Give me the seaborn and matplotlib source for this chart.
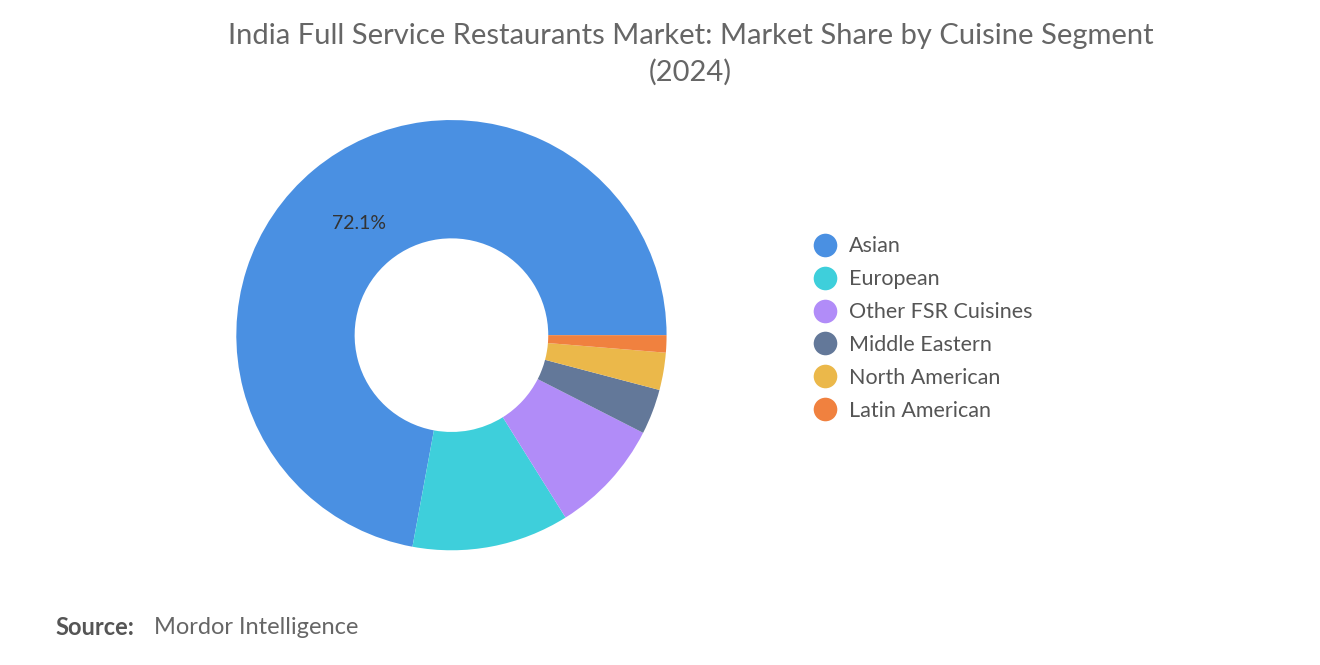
import matplotlib.pyplot as plt
import seaborn as sns
import numpy as np
from matplotlib.lines import Line2D

segments = ["Asian", "European", "Other FSR Cuisines", "Middle Eastern", "North American", "Latin American"]
shares = [72.1, 11.8, 8.6, 3.4, 2.8, 1.3]
colors = ["#4A90E2", "#3ECFDB", "#B18CF8", "#637899", "#EBB84A", "#F0813F"]

sns.set_theme(style="white", font="Lato")
fig = plt.figure(figsize=(13.2, 6.65), dpi=100)
ax = fig.add_axes([0.342 - 0.163, 0.496 - 0.3235, 0.326, 0.647])

wedges, _ = ax.pie(shares, colors=colors, startangle=0, counterclock=True,
                   radius=1.0, wedgeprops=dict(width=0.55, edgecolor="none"))
ax.set_aspect("equal")
ax.set_xlim(-1, 1)
ax.set_ylim(-1, 1)
mid = np.deg2rad(shares[0] / 100 * 360 / 2)
ax.text(0.675 * np.cos(mid), 0.675 * np.sin(mid), f"{shares[0]}%",
        ha="center", va="center", fontsize=14, color="#333333")

handles = [Line2D([0], [0], marker="o", linestyle="none", markersize=17,
                  markerfacecolor=c, markeredgecolor="none") for c in colors]
fig.legend(handles, segments, loc="center left", bbox_to_anchor=(0.594, 0.506),
           frameon=False, fontsize=15.5, labelcolor="#555555", handletextpad=0.1,
           labelspacing=0.6)

fig.text(0.523, 0.965, "India Full Service Restaurants Market: Market Share by Cuisine Segment\n(2024)",
         ha="center", va="top", fontsize=21, color="#666666", linespacing=1.45)
fig.text(0.042, 0.056, "Source:", fontsize=17, color="#555555", fontweight="bold", va="center")
fig.text(0.117, 0.056, "Mordor Intelligence", fontsize=17, color="#666666", va="center")

fig.savefig("out.png", dpi=100)
